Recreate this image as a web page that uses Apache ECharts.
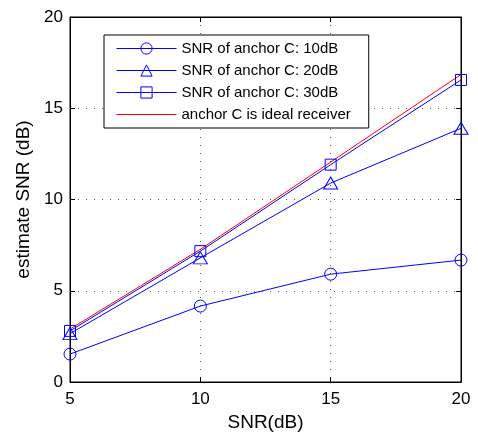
<!DOCTYPE html>
<html>
<head>
<meta charset="utf-8">
<script src="https://cdn.jsdelivr.net/npm/echarts@6/dist/echarts.min.js"></script>
<style>
  html, body { margin: 0; padding: 0; background: #fff; }
  #chart { width: 478px; height: 432px; }
</style>
</head>
<body>
<div id="chart"></div>
<script>
// Input SNR (dB) along the x axis
const snrInput = [5, 10, 15, 20];
// Estimated SNR (dB) for each anchor-C SNR setting
const anchor10dB = [1.53, 4.16, 5.91, 6.68];
const anchor20dB = [2.65, 6.8, 10.9, 13.9];
const anchor30dB = [2.8, 7.17, 11.91, 16.55];
const idealReceiver = [2.9, 7.27, 12.05, 16.85];

const seriesNames = [
  'SNR of anchor C: 10dB',
  'SNR of anchor C: 20dB',
  'SNR of anchor C: 30dB',
  'anchor C is ideal receiver'
];
const xTicks = [5, 10, 15, 20];
const yTicks = [0, 5, 10, 15, 20];

const pairs = vals => snrInput.map((x, i) => [x, vals[i]]);
const FONT = '"Liberation Sans", Arial, sans-serif';
const BLUE = '#0000ff';
const RED = '#ff0000';

const chart = echarts.init(document.getElementById('chart'), null, { renderer: 'canvas' });

const tickStyle = { show: true, inside: true, length: 5, lineStyle: { color: '#000', width: 1 } };
const gridDots = { show: true, lineStyle: { color: '#555', type: [1, 7], width: 1 } };

// hollow markers: transparent fill, blue outline, so the line shows through
const hollow = { color: 'rgba(0,0,0,0)', borderColor: BLUE, borderWidth: 1 };

chart.setOption({
  animation: false,
  backgroundColor: '#fff',
  textStyle: { fontFamily: FONT },
  grid: {
    left: 70, right: 17, top: 17, bottom: 50,
    containLabel: false, outerBoundsMode: 'none',
    show: true, borderColor: '#000', borderWidth: 1, backgroundColor: 'transparent'
  },
  legend: {
    orient: 'vertical',
    left: 104, top: 35,
    padding: [6, 18, 6, 12],
    itemWidth: 60, itemHeight: 14, itemGap: 7,
    backgroundColor: '#fff',
    borderColor: '#000', borderWidth: 1,
    lineStyle: { width: 1 },
    itemStyle: { borderWidth: 1 },
    textStyle: { fontFamily: FONT, fontSize: 15, color: '#000' },
    data: [
      seriesNames[0],
      seriesNames[1],
      seriesNames[2],
      { name: seriesNames[3], itemStyle: { opacity: 0 } }
    ]
  },
  xAxis: [{
    type: 'value', min: xTicks[0], max: xTicks[xTicks.length - 1], interval: 5,
    name: 'SNR(dB)', nameLocation: 'middle', nameGap: 30,
    nameTextStyle: { fontFamily: FONT, fontSize: 19, color: '#000' },
    axisLine: { show: true, onZero: false, lineStyle: { color: '#000' } },
    axisTick: tickStyle,
    axisLabel: { fontFamily: FONT, fontSize: 17, color: '#000', margin: 9 },
    splitLine: gridDots
  }, {
    type: 'value', position: 'top', min: xTicks[0], max: xTicks[xTicks.length - 1], interval: 5,
    axisLine: { show: true, onZero: false, lineStyle: { color: '#000' } },
    axisTick: tickStyle, axisLabel: { show: false }, splitLine: { show: false }
  }],
  yAxis: [{
    type: 'value', min: yTicks[0], max: yTicks[yTicks.length - 1], interval: 5,
    name: 'estimate SNR (dB)', nameLocation: 'middle', nameGap: 31,
    nameTextStyle: { fontFamily: FONT, fontSize: 19, color: '#000' },
    axisLine: { show: true, onZero: false, lineStyle: { color: '#000' } },
    axisTick: tickStyle,
    axisLabel: { fontFamily: FONT, fontSize: 17, color: '#000', margin: 7 },
    splitLine: gridDots
  }, {
    type: 'value', position: 'right', min: yTicks[0], max: yTicks[yTicks.length - 1], interval: 5,
    axisLine: { show: true, onZero: false, lineStyle: { color: '#000' } },
    axisTick: tickStyle, axisLabel: { show: false }, splitLine: { show: false }
  }],
  series: [
    {
      name: seriesNames[0], type: 'line', data: pairs(anchor10dB),
      symbol: 'circle', symbolSize: 12,
      itemStyle: hollow,
      lineStyle: { color: BLUE, width: 1 }
    },
    {
      name: seriesNames[1], type: 'line', data: pairs(anchor20dB),
      symbol: 'triangle', symbolSize: [14, 12],
      itemStyle: hollow,
      lineStyle: { color: BLUE, width: 1 }
    },
    {
      name: seriesNames[2], type: 'line', data: pairs(anchor30dB),
      symbol: 'rect', symbolSize: 11,
      itemStyle: hollow,
      lineStyle: { color: BLUE, width: 1 }
    },
    {
      name: seriesNames[3], type: 'line', data: pairs(idealReceiver),
      symbol: 'none',
      itemStyle: { color: RED },
      lineStyle: { color: RED, width: 1 }
    }
  ]
});
</script>
</body>
</html>
